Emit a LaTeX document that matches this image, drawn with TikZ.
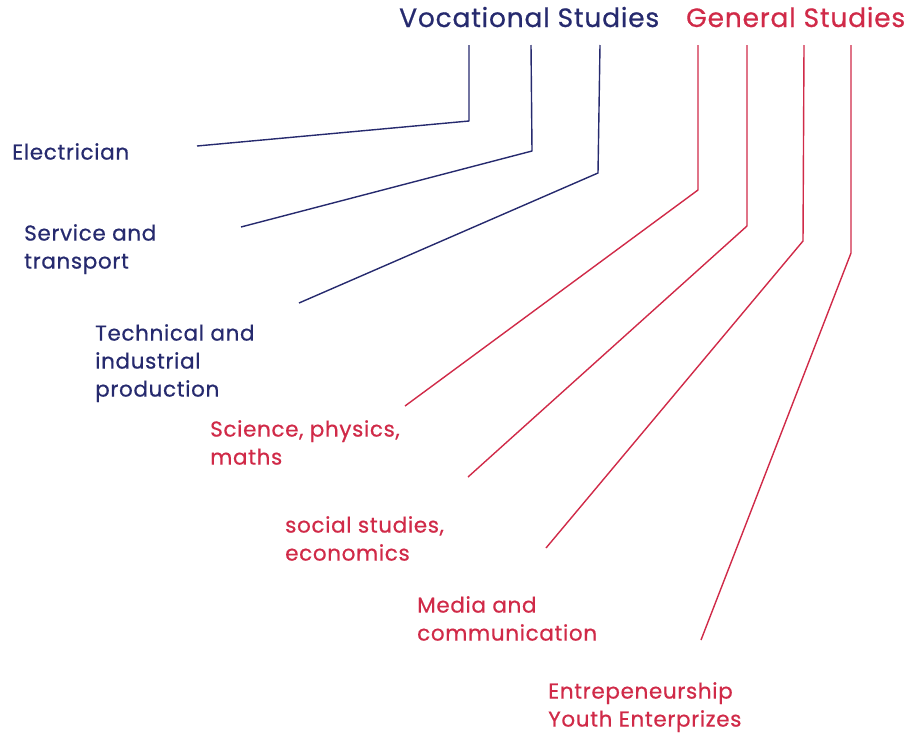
\documentclass[tikz,border=0pt]{standalone}
\usepackage{fontspec}
\setmainfont{Poppins}[LetterSpace=3, FakeBold=0.6]
\definecolor{vocblue}{RGB}{38,42,110}
\definecolor{genred}{RGB}{208,42,72}

\begin{document}
\begin{tikzpicture}[x=1pt,y=-1pt,
    titulo/.style={font=\fontsize{26.5}{30}\selectfont, anchor=base west, inner sep=0},
    rama/.style={font=\fontsize{21.5}{28}\selectfont, align=left, anchor=north west, inner sep=0},
    linea/.style={line width=1.4pt, line join=round}]
    \useasboundingbox (0,0) rectangle (912,734);

    % Titulos
    \node[titulo, text=vocblue] (voc) at (399,27) {Vocational Studies};
    \node[titulo, text=genred] (gen) at (686,27) {General Studies};

    % Ramas vocacionales
    \node[rama, text=vocblue] (elec) at (12,143) {Electrician};
    \node[rama, text=vocblue] (serv) at (24,224) {Service and\\transport};
    \node[rama, text=vocblue] (tech) at (95,324) {Technical and\\industrial\\production};

    % Ramas generales
    \node[rama, text=genred] (sci) at (210,420) {Science, physics,\\maths};
    \node[rama, text=genred] (soc) at (285,516) {social studies,\\economics};
    \node[rama, text=genred] (media) at (417,596) {Media and\\communication};
    \node[rama, text=genred] (entre) at (548,682) {Entrepeneurship\\Youth Enterprizes};

    % Puntos de las lineas
    \coordinate (v1) at (469,45);  \coordinate (v1e) at (197,146);
    \coordinate (v2) at (531,45);  \coordinate (v2e) at (241,227);
    \coordinate (v3) at (600,45);  \coordinate (v3e) at (299,303);
    \coordinate (g1) at (698,45);  \coordinate (g1e) at (405,406);
    \coordinate (g2) at (747,45);  \coordinate (g2e) at (468,477);
    \coordinate (g3) at (804,45);  \coordinate (g3e) at (546,548);
    \coordinate (g4) at (851,45);  \coordinate (g4e) at (701,640);

    % Lineas vocacionales
    \draw[linea, vocblue] (v1) -- (469,121) -- (v1e);
    \draw[linea, vocblue] (v2) -- (532,151) -- (v2e);
    \draw[linea, vocblue] (v3) -- (598,173) -- (v3e);

    % Lineas generales
    \draw[linea, genred] (g1) -- (698,190) -- (g1e);
    \draw[linea, genred] (g2) -- (747,226) -- (g2e);
    \draw[linea, genred] (g3) -- (803,241) -- (g3e);
    \draw[linea, genred] (g4) -- (851,253) -- (g4e);
\end{tikzpicture}
\end{document}
